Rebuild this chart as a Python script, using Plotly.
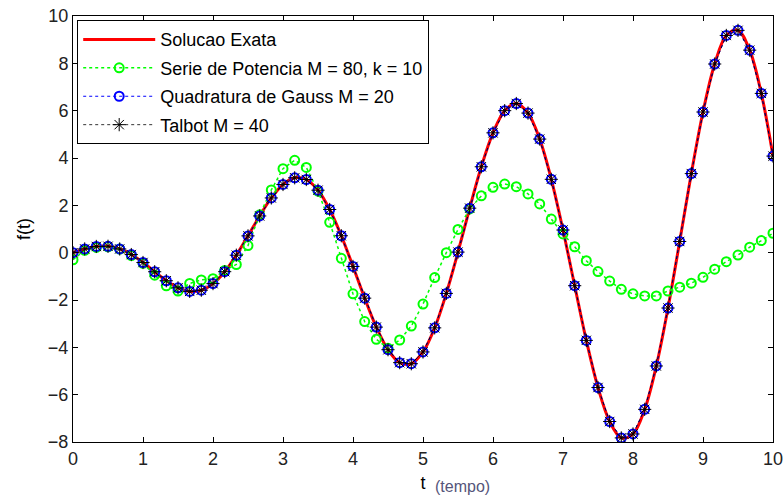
import plotly.graph_objects as go

t_vals = [0.0, 0.167, 0.333, 0.5, 0.667, 0.833, 1.0, 1.167, 1.333, 1.5,
          1.667, 1.833, 2.0, 2.167, 2.333, 2.5, 2.667, 2.833, 3.0, 3.167,
          3.333, 3.5, 3.667, 3.833, 4.0, 4.167, 4.333, 4.5, 4.667, 4.833,
          5.0, 5.167, 5.333, 5.5, 5.667, 5.833, 6.0, 6.167, 6.333, 6.5,
          6.667, 6.833, 7.0, 7.167, 7.333, 7.5, 7.667, 7.833, 8.0, 8.167,
          8.333, 8.5, 8.667, 8.833, 9.0, 9.167, 9.333, 9.5, 9.667, 9.833, 10.0]

exact_vals = [0.0, 0.158, 0.262, 0.270, 0.157, -0.080, -0.416, -0.806, -1.186, -1.485,
              -1.636, -1.586, -1.307, -0.804, -0.107, 0.709, 1.551, 2.312, 2.881, 3.163,
              3.091, 2.639, 1.824, 0.715, -0.582, -1.922, -3.145, -4.100, -4.647, -4.693,
              -4.195, -3.177, -1.722, 0.024, 1.881, 3.629, 5.063, 6.000, 6.302, 5.898,
              4.800, 3.100, 0.957, -1.396, -3.706, -5.698, -7.135, -7.827, -7.661, -6.621,
              -4.788, -2.339, 0.473, 3.341, 5.943, 7.972, 9.178, 9.393, 8.557, 6.729, 4.081]

series_vals = [-0.30, 0.10, 0.22, 0.25, 0.15, -0.12, -0.45, -0.95, -1.40, -1.62,
               -1.30, -1.15, -1.10, -0.75, -0.50, 0.30, 1.60, 2.65, 3.55, 3.90,
               3.60, 2.60, 1.28, -0.24, -1.74, -2.91, -3.66, -4.04, -3.69, -3.10,
               -2.17, -1.05, 0.00, 0.98, 1.85, 2.40, 2.76, 2.90, 2.79, 2.48,
               2.06, 1.42, 0.79, 0.25, -0.34, -0.80, -1.20, -1.55, -1.74, -1.83,
               -1.83, -1.62, -1.46, -1.29, -1.04, -0.70, -0.38, -0.10, 0.23, 0.51, 0.82]

gauss_vals = list(exact_vals)
talbot_vals = list(exact_vals)

names = ["Solucao Exata", "Serie de Potencia M = 80, k = 10",
         "Quadratura de Gauss M = 20", "Talbot M = 40"]
x_ticks = [0, 1, 2, 3, 4, 5, 6, 7, 8, 9, 10]
y_ticks = [-8, -6, -4, -2, 0, 2, 4, 6, 8, 10]

FONT = "Liberation Sans"

fig = go.Figure()
fig.add_trace(go.Scatter(x=t_vals, y=exact_vals, mode="lines", name=names[0],
                         line=dict(color="#ff0000", width=3, shape="spline"),
                         legendgroup="a"))
fig.add_trace(go.Scatter(x=t_vals, y=series_vals, mode="lines+markers", name=names[1],
                         line=dict(color="#00ff00", width=1.5, dash="dot"),
                         marker=dict(symbol="circle-open", size=9, color="#00ff00",
                                     line=dict(width=2, color="#00ff00")),
                         legendgroup="b"))
fig.add_trace(go.Scatter(x=t_vals, y=gauss_vals, mode="lines+markers", name=names[2],
                         line=dict(color="#0000ff", width=1, dash="dot"),
                         marker=dict(symbol="circle-open", size=9, color="#0000ff",
                                     line=dict(width=2, color="#0000ff")),
                         legendgroup="c"))
fig.add_trace(go.Scatter(x=t_vals, y=talbot_vals, mode="lines+markers", name=names[3],
                         line=dict(color="#000000", width=0.8, dash="dot"),
                         marker=dict(symbol="asterisk-open", size=11, color="#000000",
                                     line=dict(width=1, color="#000000")),
                         legendgroup="d"))

axis_common = dict(showgrid=False, zeroline=False, showline=True, linecolor="black",
                   linewidth=1, mirror="allticks", ticks="inside", ticklen=5,
                   tickcolor="black", automargin=False,
                   tickfont=dict(family=FONT, size=18, color="#222"))

fig.update_layout(
    width=784, height=500,
    margin=dict(l=73, r=11, t=16, b=58),
    paper_bgcolor="white", plot_bgcolor="white",
    font=dict(family=FONT, size=18, color="black"),
    xaxis=dict(range=[0, 10], tickvals=x_ticks,
               title=dict(text="t", standoff=8, font=dict(family=FONT, size=18, color="black")),
               **axis_common),
    yaxis=dict(range=[-8, 10], tickvals=y_ticks,
               title=dict(text="f(t)", standoff=12, font=dict(family=FONT, size=18, color="black")),
               **axis_common),
    legend=dict(x=0.006, y=0.99, xanchor="left", yanchor="top",
                bgcolor="white", bordercolor="black", borderwidth=1,
                font=dict(family=FONT, size=18, color="black"),
                itemwidth=72,
                traceorder="grouped", tracegroupgap=2),
    showlegend=True,
    annotations=[dict(text="(tempo)", x=5.14, y=-0.105, xref="x", yref="paper",
                      xanchor="left", yanchor="middle", showarrow=False,
                      font=dict(family=FONT, size=16, color="#55557a"))],
)

fig.write_html("out.html")
